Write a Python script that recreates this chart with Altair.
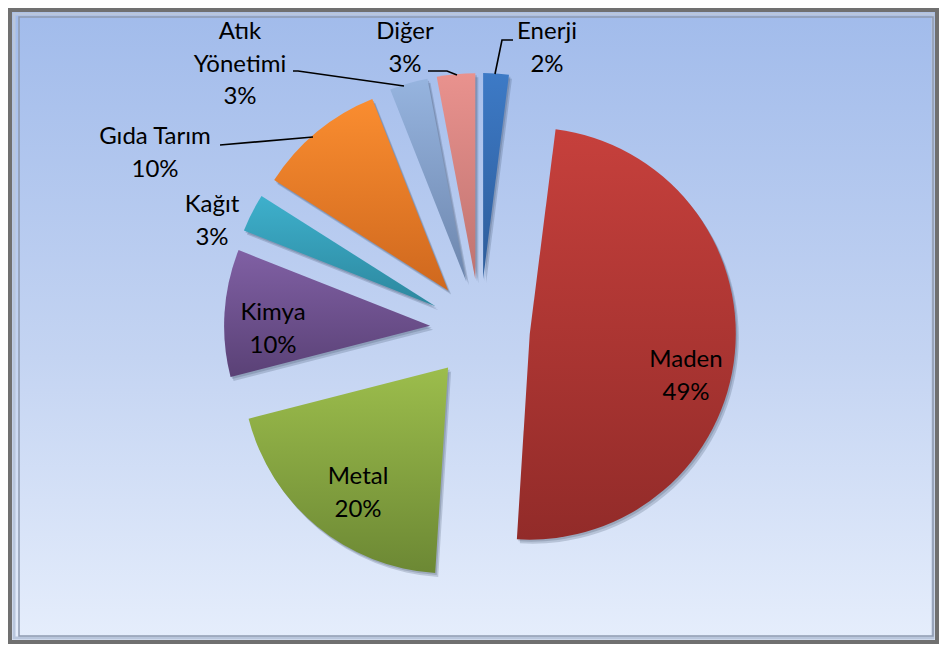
import altair as alt
import pandas as pd

# ---- data ----
categories = ["Enerji", "Maden", "Metal", "Kimya", "Kağıt", "Gıda Tarım", "Atık Yönetimi", "Diğer"]
values = [2, 49, 20, 10, 3, 10, 3, 3]
label_texts = ["Enerji\n2%", "Maden\n49%", "Metal\n20%", "Kimya\n10%", "Kağıt\n3%",
               "Gıda Tarım\n10%", "Atık\nYönetimi\n3%", "Diğer\n3%"]

# ---- style ----
W, H = 931, 636
CX, CY = 472, 321
R = 206
EXPLODE = 50
top_colors = ["#3d7ac6", "#c6403c", "#9cbd4c", "#8060a4", "#3eb0cc", "#fa8d30", "#96b4df", "#e9928e"]
bot_colors = ["#2d5c9a", "#922b29", "#6c8834", "#5a4176", "#2c879e", "#cf681e", "#6d86ad", "#bf7370"]
# first-line centres of each label (canvas pixels)
label_pos = [(539, 24), (678, 352), (350, 469), (265, 305), (204, 197),
             (147, 129), (232, 24), (397, 24)]
leaders = [
    [(487, 66), (494, 32), (505, 32)],
    [(449, 67), (439, 63), (420, 63)],
    [(396, 78), (290, 63), (285, 63)],
    [(305, 129), (212, 137)],
]

df = pd.DataFrame({"cat": categories, "value": values, "order": list(range(len(values)))})

base = (
    alt.Chart(df)
    .transform_joinaggregate(total="sum(value)")
    .transform_window(cum="sum(value)", sort=[alt.SortField("order")], frame=[None, 0])
    .transform_calculate(
        t0="(datum.cum - datum.value) / datum.total * 2 * PI",
        t1="datum.cum / datum.total * 2 * PI",
    )
    .transform_calculate(mid="(datum.t0 + datum.t1) / 2")
    .transform_calculate(
        ex=f"{CX} + {EXPLODE} * sin(datum.mid)",
        ey=f"{CY} - {EXPLODE} * cos(datum.mid)",
    )
    .transform_calculate(sx="datum.ex + 3", sy="datum.ey + 4", sx2="datum.ex + 1.5", sy2="datum.ey + 2")
)

def enc(xf, yf):
    return dict(
        x=alt.X(f"{xf}:Q", scale=None, axis=None),
        y=alt.Y(f"{yf}:Q", scale=None, axis=None),
        theta=alt.Theta("t0:Q", scale=None),
        theta2="t1:Q",
    )

one = pd.DataFrame({"a": [0]})

bg = alt.Chart(one).mark_rect(
    color=alt.LinearGradient(
        gradient="linear", x1=0, y1=0, x2=0, y2=1,
        stops=[alt.GradientStop(color="#a1bbeb", offset=0),
               alt.GradientStop(color="#c4d4f2", offset=0.55),
               alt.GradientStop(color="#e6eefc", offset=1)],
    )
).encode(x=alt.value(0), x2=alt.value(W), y=alt.value(0), y2=alt.value(H))

frame_outer = alt.Chart(one).mark_rect(fill="transparent", stroke="#707070", strokeWidth=4).encode(
    x=alt.value(2), x2=alt.value(W - 2), y=alt.value(2), y2=alt.value(H - 2))
frame_mid = alt.Chart(one).mark_rect(fill="transparent", stroke="#b9c6dc", strokeWidth=3).encode(
    x=alt.value(6), x2=alt.value(W - 6), y=alt.value(6), y2=alt.value(H - 6))
frame_inner = alt.Chart(one).mark_rect(fill="transparent", stroke="#8e9ab0", strokeWidth=1.5).encode(
    x=alt.value(11), x2=alt.value(W - 6), y=alt.value(9), y2=alt.value(H - 8))

shadow1 = base.mark_arc(radius=R, color="#1a2a40", opacity=0.18).encode(**enc("sx", "sy"))
shadow2 = base.mark_arc(radius=R, color="#1a2a40", opacity=0.18).encode(**enc("sx2", "sy2"))

slices = []
for i, c in enumerate(categories):
    grad = alt.LinearGradient(
        gradient="linear", x1=0, y1=0, x2=0, y2=1,
        stops=[alt.GradientStop(color=top_colors[i], offset=0),
               alt.GradientStop(color=bot_colors[i], offset=1)],
    )
    slices.append(
        base.transform_filter(alt.datum.cat == c).mark_arc(radius=R, color=grad).encode(**enc("ex", "ey"))
    )

lab_df = pd.DataFrame({
    "text": label_texts,
    "lx": [p[0] for p in label_pos],
    "ly": [p[1] for p in label_pos],
})
labels = alt.Chart(lab_df).mark_text(
    font="Lato", fontSize=24, lineBreak="\n", lineHeight=32.5, align="center", baseline="middle", color="#000000"
).encode(
    x=alt.X("lx:Q", scale=None, axis=None),
    y=alt.Y("ly:Q", scale=None, axis=None),
    text="text:N",
)

rows = []
for li, pts in enumerate(leaders):
    for pi, (px, py) in enumerate(pts):
        rows.append({"line": li, "i": pi, "px": px, "py": py})
lead_df = pd.DataFrame(rows)
lead = alt.Chart(lead_df).mark_line(color="#000000", strokeWidth=1.6).encode(
    x=alt.X("px:Q", scale=None, axis=None),
    y=alt.Y("py:Q", scale=None, axis=None),
    detail="line:N",
    order="i:Q",
)

chart = alt.layer(bg, frame_mid, frame_inner, frame_outer, shadow1, shadow2, *slices, lead, labels).properties(
    width=W, height=H, padding=0, autosize=alt.AutoSizeParams(type="none"), background="white"
).configure_view(stroke=None)

chart.save("out.html", embed_options={"renderer": "svg", "actions": False})
